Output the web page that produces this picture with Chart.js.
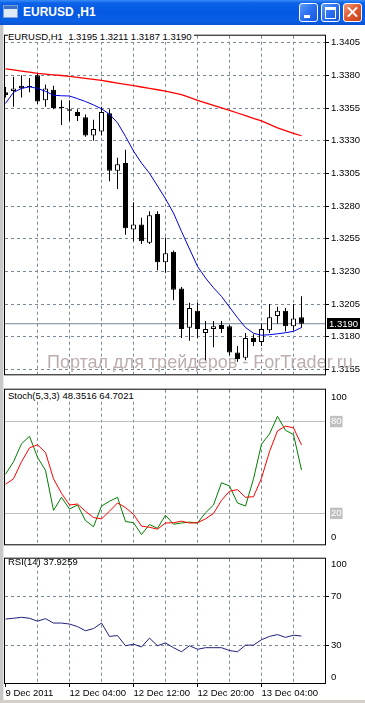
<!DOCTYPE html>
<html>
<head>
<meta charset="utf-8">
<script src="https://cdn.jsdelivr.net/npm/chart.js@4.4.0/dist/chart.umd.min.js"></script>
<style>
body { margin: 0; width: 365px; height: 703px; overflow: hidden; background: #fff; position: relative; font-family: 'Liberation Sans', Arial, sans-serif; }
canvas { position: absolute; left: 0; }
#titlebar { position: absolute; left: 0; top: 0; width: 365px; height: 25px;
  background: linear-gradient(#3b8cf6 0%, #0b62e8 12%, #0558e2 50%, #0a5fe6 85%, #0950d0 100%); }
#icon { position: absolute; left: 3px; top: 5px; width: 13px; height: 11px; background: #dfe9f7; border: 1px solid #7aa0d8; }
#icon:before { content: ''; position: absolute; left: 0; top: 0; width: 13px; height: 3px; background: #3a70c8; }
#title { position: absolute; left: 23px; top: 5px; color: #fff; font: bold 12px 'Liberation Sans', Arial, sans-serif; white-space: pre; }
.btn { position: absolute; top: 3px; width: 17px; height: 17px; border: 1px solid #fff; border-radius: 3px;
  background: linear-gradient(135deg, #5c9dfa 0%, #2a6ff0 50%, #1556e0 100%); }
#bmin { left: 299px; }
#bmax { left: 321px; }
#bcls { left: 343px; background: linear-gradient(135deg, #f09878 0%, #e0582e 50%, #c8401c 100%); }
#bmin:after { content: ''; position: absolute; left: 4px; top: 11px; width: 6px; height: 3px; background: #fff; }
#bmax:after { content: ''; position: absolute; left: 3px; top: 3px; width: 9px; height: 8px; border: 1px solid #fff; border-top-width: 3px; }
.xbar { position: absolute; left: 2px; top: 7px; width: 13px; height: 2px; background: #fff; }
#leftedge { position: absolute; left: 0; top: 25px; width: 3px; height: 678px; background: #c8c8c8; border-right: 1px solid #e8e8e8; }
#bottomedge { position: absolute; left: 0; top: 700px; width: 365px; height: 3px; background: #d4d0c8; }
.label { position: absolute; left: 8px; font-size: 9.5px; line-height: 11px; color: #000; background: #fff; white-space: pre; padding-right: 2px; z-index: 2; }
</style>
</head>
<body>
<div id="titlebar">
  <div id="icon"></div>
  <div id="title">EURUSD ,H1</div>
  <div class="btn" id="bmin"></div>
  <div class="btn" id="bmax"></div>
  <div class="btn" id="bcls"><div class="xbar" style="transform: rotate(45deg)"></div><div class="xbar" style="transform: rotate(-45deg)"></div></div>
</div>
<div id="leftedge"></div>
<canvas id="price" width="365" height="354" style="top:28px"></canvas>
<canvas id="stoch" width="365" height="170" style="top:382px"></canvas>
<canvas id="rsi" width="365" height="149" style="top:551px"></canvas>
<div class="label" style="top:31px">EURUSD,H1  1.3195 1.3211 1.3187 1.3190</div>
<div class="label" style="top:390px">Stoch(5,3,3) 48.3516 64.7021</div>
<div class="label" style="top:556px; background: none">RSI(14) 37.9259</div>
<div id="bottomedge"></div>
<script>
// hourly bars, 9 Dec 2011 .. 13 Dec 2011
var times = ['9 Dec 2011', '12 Dec 04:00', '12 Dec 12:00', '12 Dec 20:00', '13 Dec 04:00'];

var opens = [1.3367, 1.3368, 1.3372, 1.3371, 1.3380, 1.3361, 1.3369, 1.3356, 1.3354, 1.3352,
    1.3348, 1.3334, 1.3337, 1.3351, 1.3307, 1.3313, 1.3262, 1.3266, 1.3252, 1.3274,
    1.3237, 1.3245, 1.3217, 1.3187, 1.3200, 1.3183, 1.3186, 1.3189, 1.3188, 1.3168,
    1.3164, 1.3179, 1.3176, 1.3185, 1.3196, 1.3200, 1.3188, 1.3195];
var highs = [1.3371, 1.3379, 1.3380, 1.3378, 1.3381, 1.3373, 1.3372, 1.3361, 1.3361, 1.3354,
    1.3350, 1.3346, 1.3356, 1.3354, 1.3317, 1.3323, 1.3283, 1.3271, 1.3276, 1.3276,
    1.3256, 1.3246, 1.3218, 1.3206, 1.3206, 1.3192, 1.3192, 1.3192, 1.3189, 1.3173,
    1.3183, 1.3182, 1.3190, 1.3205, 1.3203, 1.3202, 1.3205, 1.3211];
var lows = [1.3363, 1.3356, 1.3363, 1.3367, 1.3358, 1.3356, 1.3354, 1.3342, 1.3345, 1.3345,
    1.3333, 1.3330, 1.3334, 1.3299, 1.3293, 1.3258, 1.3253, 1.3251, 1.3251, 1.3231,
    1.3229, 1.3208, 1.3179, 1.3177, 1.3179, 1.3162, 1.3172, 1.3183, 1.3166, 1.3161,
    1.3162, 1.3173, 1.3173, 1.3183, 1.3190, 1.3184, 1.3185, 1.3187];
var closes = [1.3365, 1.3370, 1.3370, 1.3371, 1.3360, 1.3370, 1.3355, 1.3355, 1.3353, 1.3349,
    1.3334, 1.3339, 1.3352, 1.3307, 1.3312, 1.3263, 1.3266, 1.3253, 1.3273, 1.3237,
    1.3244, 1.3216, 1.3186, 1.3202, 1.3186, 1.3186, 1.3188, 1.3186, 1.3168, 1.3163,
    1.3179, 1.3176, 1.3186, 1.3195, 1.3200, 1.3188, 1.3194, 1.3190];

// moving averages
var maFast = [1.33585, 1.33670, 1.33700, 1.33713, 1.33700, 1.33678, 1.33648, 1.33644, 1.33642, 1.33622,
    1.33600, 1.33574, 1.33544, 1.33503, 1.33437, 1.33333, 1.33221, 1.33129, 1.33051, 1.32954,
    1.32856, 1.32747, 1.32606, 1.32472, 1.32339, 1.32250, 1.32175, 1.32109, 1.32027, 1.31946,
    1.31871, 1.31827, 1.31812, 1.31816, 1.31823, 1.31831, 1.31842, 1.31871];
var maSlow = [1.33850, 1.33842, 1.33833, 1.33824, 1.33815, 1.33810, 1.33804, 1.33799, 1.33793, 1.33785,
    1.33777, 1.33769, 1.33761, 1.33751, 1.33741, 1.33731, 1.33721, 1.33711, 1.33700, 1.33690,
    1.33679, 1.33666, 1.33652, 1.33631, 1.33609, 1.33590, 1.33571, 1.33552, 1.33533, 1.33512,
    1.33492, 1.33471, 1.33451, 1.33425, 1.33399, 1.33378, 1.33357, 1.33338];

var stochMain = [45.6, 53.7, 65.5, 70.3, 56.7, 48.1, 22.0, 30.5, 22.8, 25.5,
    15.3, 11.3, 24.8, 27.9, 30.5, 14.7, 13.9, 6.2, 12.7, 10.3,
    18.8, 12.9, 13.7, 14.3, 13.7, 20.4, 25.5, 40.0, 37.9, 26.8,
    24.8, 42.6, 65.2, 71.9, 83.4, 74.3, 71.5, 48.35];
var stochSignal = [39.0, 42.6, 53.7, 62.8, 64.8, 59.8, 42.6, 33.1, 25.5, 26.1,
    21.4, 17.3, 16.4, 21.4, 26.8, 23.8, 19.4, 11.7, 10.9, 9.7,
    13.7, 13.9, 14.9, 13.7, 13.9, 16.4, 20.0, 28.5, 34.5, 35.5,
    30.5, 30.9, 43.0, 60.4, 73.9, 77.0, 75.9, 64.70];
var rsi = [51.8, 52.4, 53.2, 52.4, 50.0, 52.1, 48.5, 48.5, 47.7, 45.6,
    42.2, 44.0, 48.5, 37.6, 38.3, 30.0, 31.3, 29.0, 36.2, 30.0,
    32.3, 28.4, 25.1, 30.0, 27.1, 28.4, 28.4, 28.4, 26.1, 25.1,
    30.5, 30.5, 34.9, 37.6, 39.1, 36.8, 38.6, 37.93];

var priceTicks = [1.3155, 1.3180, 1.3205, 1.3230, 1.3255, 1.3280, 1.3305, 1.3330, 1.3355, 1.3380, 1.3405];
var stochLevels = [20, 80];
var rsiLevels = [30, 70];

var GRID = '#778899';
var NONE = 'rgba(0,0,0,0)';
var FONT = { family: 'Liberation Sans', size: 9.5 };
var last = closes.length - 1;

Chart.defaults.animation = false;
Chart.defaults.font.family = 'Liberation Sans';

function pts(arr) {
    return arr.map((v, i) => ({ x: i, y: v }));
}

// black box around each sub window
var framePlugin = {
    id: 'frame',
    afterDraw(chart) {
        var a = chart.chartArea, ctx = chart.ctx;
        ctx.save();
        ctx.strokeStyle = '#000';
        ctx.lineWidth = 1;
        ctx.strokeRect(a.left - 0.5, a.top - 0.5, a.right - a.left + 1, a.bottom - a.top + 1);
        ctx.restore();
    }
};

function timeAxis(showLabels) {
    return {
        type: 'linear', min: -0.0625, max: 39.9375, offset: false,
        afterBuildTicks: s => {
            s.ticks = [];
            for (let v = showLabels ? 0 : 4; v <= 36; v += 4) s.ticks.push({ value: v });
        },
        afterFit: s => { s.height = showLabels ? 17 : 0; },
        grid: {
            offset: false,
            color: c => (c.tick && c.tick.value === 0) ? NONE : GRID,
            drawTicks: showLabels, tickLength: 4, tickBorderDash: [],
            tickColor: c => (c.tick && c.tick.value % 8 === 0) ? '#000' : NONE
        },
        border: { display: false, dash: [3, 3] },
        ticks: {
            display: showLabels, autoSkip: false, maxRotation: 0, align: 'start', padding: 1,
            color: '#000', font: FONT,
            callback: v => v % 8 === 0 ? times[v / 8] : ''
        }
    };
}

// ---- price window ----
var wicks = [], bodies = [], bodyColors = [];
for (let i = 0; i < closes.length; i++) {
    wicks.push({ x: i, y: [lows[i], highs[i]] });
    bodies.push({ x: i, y: [opens[i], closes[i]] });
    bodyColors.push(closes[i] > opens[i] ? '#fff' : '#000');
}

var watermark = {
    id: 'watermark',
    beforeDatasetsDraw(chart) {
        var ctx = chart.ctx;
        ctx.save();
        ctx.font = '18px "Liberation Sans"';
        ctx.fillStyle = '#bdaeae';
        ctx.textBaseline = 'alphabetic';
        ctx.fillText('Портал для трейдеров - ForTrader.ru', 47, 340);
        ctx.restore();
    }
};

var bidLabel = {
    id: 'bidLabel',
    afterDraw(chart) {
        var ctx = chart.ctx;
        var y = Math.round(chart.scales.y.getPixelForValue(closes[last]));
        ctx.save();
        ctx.fillStyle = '#000';
        ctx.fillRect(327, y - 6, 33, 11);
        ctx.fillStyle = '#fff';
        ctx.font = '9.5px "Liberation Sans"';
        ctx.textBaseline = 'middle';
        ctx.fillText(closes[last].toFixed(4), 329, y);
        ctx.restore();
    }
};

new Chart(document.getElementById('price'), {
    type: 'bar',
    data: {
        datasets: [
            { type: 'line', data: pts(maSlow), borderColor: '#ff0000', borderWidth: 1.3, pointRadius: 0, order: 0 },
            { type: 'line', data: pts(maFast), borderColor: '#0000dd', borderWidth: 1, pointRadius: 0, order: 0 },
            { type: 'bar', data: bodies, backgroundColor: bodyColors, borderColor: '#000', borderWidth: 1,
              borderSkipped: false, barThickness: 5, minBarLength: 1, grouped: false, inflateAmount: 0, order: 1 },
            { type: 'bar', data: wicks, backgroundColor: '#000', barThickness: 1, grouped: false, inflateAmount: 0, order: 2 },
            { type: 'line', data: [{ x: -0.0625, y: closes[last] }, { x: 39.9375, y: closes[last] }],
              borderColor: GRID, borderWidth: 1, pointRadius: 0, order: 3 }
        ]
    },
    options: {
        responsive: false, devicePixelRatio: 1,
        layout: { padding: { left: 5, top: 2, bottom: 2, right: 0 } },
        plugins: { legend: { display: false }, tooltip: { enabled: false } },
        scales: {
            x: timeAxis(false),
            y: {
                position: 'right', min: 1.315131, max: 1.341034, beginAtZero: false,
                afterBuildTicks: s => { s.ticks = priceTicks.map(v => ({ value: v })); },
                afterFit: s => { s.width = 40; },
                grid: { color: GRID, tickLength: 4, tickColor: '#000', tickBorderDash: [] },
                border: { display: false, dash: [3, 3] },
                ticks: { color: '#000', font: FONT, padding: 2, autoSkip: false, callback: v => v.toFixed(4) }
            }
        }
    },
    plugins: [watermark, framePlugin, bidLabel]
});

// ---- stochastic window ----
new Chart(document.getElementById('stoch'), {
    type: 'line',
    data: {
        datasets: [
            { data: pts(stochSignal), borderColor: '#ff0000', borderWidth: 1, pointRadius: 0 },
            { data: pts(stochMain), borderColor: '#008000', borderWidth: 1, pointRadius: 0 }
        ]
    },
    options: {
        responsive: false, devicePixelRatio: 1,
        layout: { padding: { left: 5, top: 2, bottom: 2, right: 0 } },
        plugins: { legend: { display: false }, tooltip: { enabled: false } },
        scales: {
            x: timeAxis(false),
            y: {
                position: 'right', min: -0.2, max: 100.8,
                // 0 and 100 are printed just inside the window edges
                afterBuildTicks: s => { s.ticks = [4].concat(stochLevels, [96]).map(v => ({ value: v })); },
                afterFit: s => { s.width = 40; },
                grid: {
                    color: c => stochLevels.includes(c.tick.value) ? '#c0c0c0' : NONE,
                    tickLength: 4, tickColor: NONE
                },
                border: { display: false },
                ticks: {
                    font: FONT, padding: 2, autoSkip: false,
                    color: c => stochLevels.includes(c.tick.value) ? '#fff' : '#000',
                    showLabelBackdrop: c => stochLevels.includes(c.tick.value),
                    backdropColor: '#c0c0c0', backdropPadding: { left: 1, right: 1, top: 0, bottom: 0 },
                    callback: v => v === 96 ? '100' : v === 4 ? '0' : String(v)
                }
            }
        }
    },
    plugins: [framePlugin]
});

// ---- RSI window ----
new Chart(document.getElementById('rsi'), {
    type: 'line',
    data: {
        datasets: [
            { data: pts(rsi), borderColor: '#20207a', borderWidth: 1, pointRadius: 0 }
        ]
    },
    options: {
        responsive: false, devicePixelRatio: 1,
        layout: { padding: { left: 5, top: 2, bottom: 0, right: 0 } },
        plugins: { legend: { display: false }, tooltip: { enabled: false } },
        scales: {
            x: timeAxis(true),
            y: {
                position: 'right', min: -0.4, max: 101,
                afterBuildTicks: s => { s.ticks = [4].concat(rsiLevels, [96]).map(v => ({ value: v })); },
                afterFit: s => { s.width = 40; },
                grid: {
                    color: c => rsiLevels.includes(c.tick.value) ? GRID : NONE,
                    tickLength: 4, tickBorderDash: [],
                    tickColor: c => rsiLevels.includes(c.tick.value) ? '#000' : NONE
                },
                border: { display: false, dash: [3, 3] },
                ticks: {
                    color: '#000', font: FONT, padding: 2, autoSkip: false,
                    callback: v => v === 96 ? '100' : v === 4 ? '0' : String(v)
                }
            }
        }
    },
    plugins: [framePlugin]
});
</script>
</body>
</html>
